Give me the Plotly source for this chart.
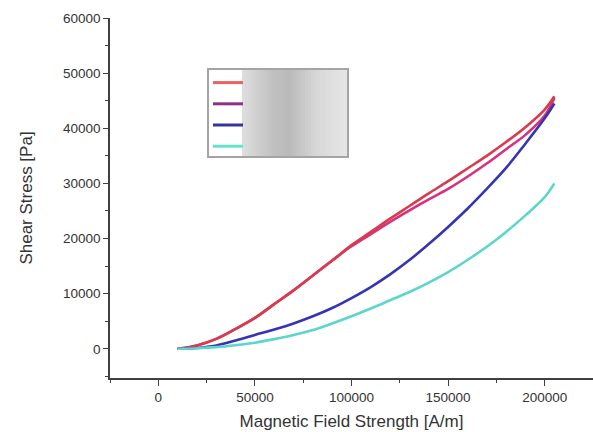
import plotly.graph_objects as go

# ---- data ----
field = [10000, 20000, 30000, 40000, 50000, 60000, 70000, 80000, 90000, 100000,
         110000, 120000, 130000, 140000, 150000, 160000, 170000, 180000, 190000,
         200000, 205000]
stress_red = [0, 600, 1800, 3600, 5600, 8100, 10600, 13300, 16000, 18800,
              21200, 23600, 25900, 28200, 30400, 32700, 35000, 37500, 40200,
              43400, 45800]
stress_magenta = [0, 600, 1800, 3600, 5600, 8100, 10600, 13300, 16000, 18600,
                  20800, 23000, 25100, 27100, 29000, 31200, 33600, 36200, 38800,
                  42300, 45500]
stress_blue = [0, 150, 600, 1500, 2500, 3500, 4600, 5900, 7400, 9200,
               11200, 13500, 16100, 19000, 22100, 25400, 29000, 32800, 37200,
               41800, 44500]
stress_cyan = [0, 100, 300, 650, 1100, 1750, 2500, 3400, 4600, 5900,
               7300, 8800, 10300, 12000, 13900, 16100, 18500, 21200, 24200,
               27500, 30000]

x_ticks = [0, 50000, 100000, 150000, 200000]
y_ticks = [0, 10000, 20000, 30000, 40000, 50000, 60000]
blank = "\u00a0" * 22  # legend labels are obscured in the reference

series = [
    (stress_magenta, "#d8307c"),
    (stress_red, "#d93a4c"),
    (stress_blue, "#3434b4"),
    (stress_cyan, "#5cd6cc"),
]
legend_colors = ["#e86262", "#8e3088", "#34349a", "#66e2ca"]

fig = go.Figure()
for ys, col in series:
    fig.add_trace(go.Scatter(x=field, y=ys, mode="lines",
                             line=dict(color=col, width=2.6, shape="spline"),
                             showlegend=False))
# legend entries
for rank, col in enumerate(legend_colors):
    fig.add_trace(go.Scatter(x=[None], y=[None], mode="lines", name=blank,
                             line=dict(color=col, width=3), legendrank=rank + 1))

# plot-area pixel geometry
L, R, T, B = 110, 593, 18, 378
W, H = R - L, B - T


def px2paper(px, py):
    return (px - L) / W, (B - py) / H


# gradient patch over the legend labels
stops = [(0.0, 222), (0.3, 192), (0.45, 186), (0.72, 216), (1.0, 230)]


def grey(t):
    for (t0, g0), (t1, g1) in zip(stops[:-1], stops[1:]):
        if t0 <= t <= t1:
            return int(round(g0 + (g1 - g0) * (t - t0) / (t1 - t0)))
    return stops[-1][1]


gx0, gx1, gy0, gy1 = 242, 347, 70, 156
n = 35
for k in range(n):
    a = gx0 + (gx1 - gx0) * k / n
    b = gx0 + (gx1 - gx0) * (k + 1) / n + 0.6
    g = grey((k + 0.5) / n)
    x0, y0 = px2paper(a, gy1)
    x1, y1 = px2paper(b, gy0)
    fig.add_shape(type="rect", xref="paper", yref="paper", x0=x0, x1=x1,
                  y0=y0, y1=y1, line=dict(width=0),
                  fillcolor=f"rgb({g},{g},{g})", layer="above")

# legend frame
bx0, by0 = px2paper(208, 157)
bx1, by1 = px2paper(348, 69)
fig.add_shape(type="rect", xref="paper", yref="paper", x0=bx0, x1=bx1,
              y0=by0, y1=by1, line=dict(color="#a4a4a4", width=2),
              fillcolor="rgba(0,0,0,0)", layer="above")

lx, ly = px2paper(208, 67)
axis_col = "#404040"
font = "Liberation Sans, Arial, sans-serif"
txt = "#333333"

fig.update_layout(
    width=593, height=432,
    margin=dict(l=L, r=593 - R, t=T, b=432 - B),
    paper_bgcolor="white", plot_bgcolor="white",
    font=dict(family=font, color=txt),
    showlegend=True,
    legend=dict(x=lx, y=ly, xanchor="left", yanchor="top",
                bgcolor="rgba(0,0,0,0)", borderwidth=0,
                font=dict(size=14, family=font), traceorder="normal"),
    xaxis=dict(range=[-25000, 225000], tickvals=x_ticks, tickformat="d",
               ticks="outside", ticklen=6, tickwidth=1.2, tickcolor=axis_col,
               minor=dict(dtick=25000, tick0=0, ticks="outside", ticklen=3,
                          tickcolor=axis_col, tickwidth=1),
               showline=True, linecolor=axis_col, linewidth=1.5,
               showgrid=False, zeroline=False,
               tickfont=dict(size=13.5, color=txt),
               title=dict(text="Magnetic Field Strength [A/m]",
                          font=dict(size=17, color=txt), standoff=11)),
    yaxis=dict(range=[-5300, 60000], tickvals=y_ticks, tickformat="d",
               ticks="outside", ticklen=5, tickwidth=1.2, tickcolor=axis_col,
               minor=dict(dtick=5000, tick0=0, ticks="outside", ticklen=3,
                          tickcolor=axis_col, tickwidth=1),
               showline=True, linecolor=axis_col, linewidth=1.5,
               showgrid=False, zeroline=False,
               tickfont=dict(size=13.5, color=txt),
               title=dict(text="Shear Stress [Pa]",
                          font=dict(size=17, color=txt), standoff=26)),
)

fig.write_html("out.html")
